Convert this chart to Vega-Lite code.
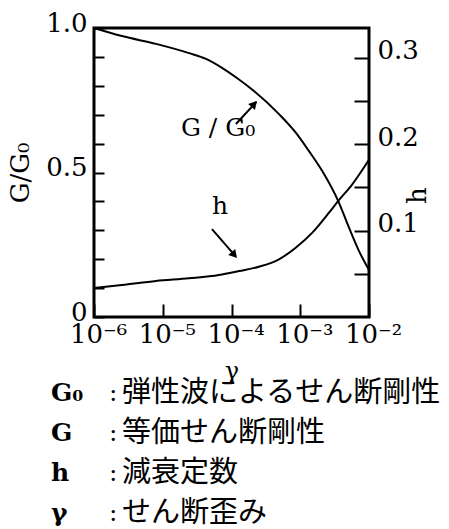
{
  "$schema": "https://vega.github.io/schema/vega-lite/v6.json",
  "background": "white",
  "padding": {"left": 6, "top": 8, "right": 0, "bottom": 0},
  "config": {"view": {"stroke": null}, "font": "DejaVu Serif"},
  "bounds": "flush",
  "spacing": 56,
  "datasets": {
    "G": [
      {"gamma": 1e-6, "ratio": 1.0},
      {"gamma": 2.55e-6, "ratio": 0.972},
      {"gamma": 7.98e-6, "ratio": 0.945},
      {"gamma": 2.41e-5, "ratio": 0.913},
      {"gamma": 4.26e-5, "ratio": 0.893},
      {"gamma": 7.28e-5, "ratio": 0.862},
      {"gamma": 1.2e-4, "ratio": 0.827},
      {"gamma": 2.12e-4, "ratio": 0.782},
      {"gamma": 4.91e-4, "ratio": 0.702},
      {"gamma": 8.67e-4, "ratio": 0.637},
      {"gamma": 1.34e-3, "ratio": 0.574},
      {"gamma": 2.09e-3, "ratio": 0.505},
      {"gamma": 3.57e-3, "ratio": 0.401},
      {"gamma": 5.12e-3, "ratio": 0.309},
      {"gamma": 7.16e-3, "ratio": 0.228},
      {"gamma": 1e-2, "ratio": 0.163}
    ],
    "h": [
      {"gamma": 1e-6, "h": 0.0336},
      {"gamma": 2.55e-6, "h": 0.037},
      {"gamma": 7.98e-6, "h": 0.0417},
      {"gamma": 2.41e-5, "h": 0.0448},
      {"gamma": 6.58e-5, "h": 0.0486},
      {"gamma": 1.285e-4, "h": 0.0532},
      {"gamma": 2.51e-4, "h": 0.0582},
      {"gamma": 4.91e-4, "h": 0.0668},
      {"gamma": 8.59e-4, "h": 0.0802},
      {"gamma": 1.5e-3, "h": 0.0976},
      {"gamma": 2.62e-3, "h": 0.1207},
      {"gamma": 3.57e-3, "h": 0.1343},
      {"gamma": 5.71e-3, "h": 0.1536},
      {"gamma": 1e-2, "h": 0.182}
    ],
    "arrows": [
      {"name": "G", "gamma": 1.16e-4, "ratio": 0.668, "gamma2": 2.3e-4, "ratio2": 0.744},
      {"name": "h", "gamma": 5.2e-5, "ratio": 0.304, "gamma2": 1.15e-4, "ratio2": 0.21}
    ],
    "heads": [
      {"name": "G", "gamma": 2.14e-4, "ratio": 0.737},
      {"name": "h", "gamma": 1.1e-4, "ratio": 0.2145}
    ],
    "labels": [
      {"label": "G / G₀", "gamma": 1.84e-5, "ratio": 0.654},
      {"label": "h", "gamma": 5.2e-5, "ratio": 0.384}
    ],
    "legend": [
      {"row": 1, "sym": "G₀", "desc": "弾性波によるせん断剛性"},
      {"row": 2, "sym": "G", "desc": "等価せん断剛性"},
      {"row": 3, "sym": "h", "desc": "減衰定数"},
      {"row": 4, "sym": "γ", "desc": "せん断歪み"}
    ]
  },
  "vconcat": [
    {
      "width": 275,
      "height": 289,
      "view": {"stroke": "black", "strokeWidth": 3},
      "encoding": {
        "x": {
          "field": "gamma",
          "type": "quantitative",
          "scale": {"type": "log", "domain": [1e-6, 1e-2], "nice": false},
          "axis": {
            "values": [1e-6, 1e-5, 1e-4, 1e-3, 1e-2],
            "labelExpr": "datum.value < 5e-6 ? '10⁻⁶' : datum.value < 5e-5 ? '10⁻⁵' : datum.value < 5e-4 ? '10⁻⁴' : datum.value < 5e-3 ? '10⁻³' : '10⁻²'",
            "domain": false,
            "grid": false,
            "offset": -13,
            "tickSize": 13,
            "tickWidth": 2,
            "tickColor": "black",
            "labelFont": "DejaVu Serif",
            "labelFontSize": 26,
            "labelColor": "black",
            "labelPadding": 4,
            "labelOffset": 4,
            "labelFlush": false,
            "labelOverlap": false,
            "title": "γ",
            "titleFont": "DejaVu Serif",
            "titleFontSize": 24,
            "titleFontWeight": "normal",
            "titleColor": "black",
            "titlePadding": 12
          }
        }
      },
      "layer": [
        {
          "encoding": {
            "y": {
              "field": "ratio",
              "type": "quantitative",
              "scale": {"domain": [0, 1], "nice": false},
              "axis": {
                "values": [0, 0.1, 0.2, 0.3, 0.4, 0.5, 0.6, 0.7, 0.8, 0.9, 1.0],
                "labelExpr": "datum.value == 0 ? '0' : datum.value == 0.5 ? '0.5' : datum.value == 1 ? '1.0' : ''",
                "domain": false,
                "grid": false,
                "offset": -10,
                "tickSize": 10,
                "tickWidth": 2,
                "tickColor": "black",
                "labelFont": "DejaVu Serif",
                "labelFontSize": 26,
                "labelColor": "black",
                "labelPadding": 7,
                "labelOffset": -5,
                "labelFlush": false,
                "labelOverlap": false,
                "title": "G/G₀",
                "titleFont": "DejaVu Serif",
                "titleFontSize": 26,
                "titleFontWeight": "normal",
                "titleColor": "black",
                "titlePadding": 12
              }
            }
          },
          "layer": [
            {
              "data": {"name": "G"},
              "mark": {"type": "line", "color": "black", "strokeWidth": 2, "interpolate": "monotone"}
            },
            {
              "data": {"name": "arrows"},
              "mark": {"type": "rule", "color": "black", "strokeWidth": 2},
              "encoding": {"x2": {"field": "gamma2"}, "y2": {"field": "ratio2"}}
            },
            {
              "data": {"name": "heads"},
              "transform": [{"filter": "datum.name == 'G'"}],
              "mark": {"type": "point", "shape": "triangle-up", "filled": true, "color": "black", "opacity": 1, "size": 85, "angle": 42}
            },
            {
              "data": {"name": "heads"},
              "transform": [{"filter": "datum.name == 'h'"}],
              "mark": {"type": "point", "shape": "triangle-up", "filled": true, "color": "black", "opacity": 1, "size": 85, "angle": 139}
            },
            {
              "data": {"name": "labels"},
              "mark": {"type": "text", "font": "DejaVu Serif", "fontSize": 25, "align": "left", "baseline": "middle", "color": "black"},
              "encoding": {"text": {"field": "label"}}
            }
          ]
        },
        {
          "data": {"name": "h"},
          "mark": {"type": "line", "color": "black", "strokeWidth": 2, "interpolate": "monotone"},
          "encoding": {
            "y": {
              "field": "h",
              "type": "quantitative",
              "scale": {"domain": [0, 0.3345], "nice": false},
              "axis": {
                "orient": "right",
                "values": [0.05, 0.1, 0.15, 0.2, 0.25, 0.3],
                "labelExpr": "datum.value == 0.1 ? '0.1' : datum.value == 0.2 ? '0.2' : datum.value == 0.3 ? '0.3' : ''",
                "domain": false,
                "grid": false,
                "offset": -15,
                "tickSize": 15,
                "tickWidth": 2,
                "tickColor": "black",
                "labelFont": "DejaVu Serif",
                "labelFontSize": 26,
                "labelColor": "black",
                "labelPadding": 8,
                "labelOffset": -7,
                "labelFlush": false,
                "labelOverlap": false,
                "title": "h",
                "titleFont": "DejaVu Serif",
                "titleFontSize": 26,
                "titleFontWeight": "normal",
                "titleColor": "black",
                "titleAngle": -90,
                "titleBaseline": "middle",
                "titleX": 63,
                "titleY": 167
              }
            }
          }
        }
      ],
      "resolve": {"scale": {"y": "independent"}, "axis": {"y": "independent"}}
    },
    {
      "width": 275,
      "height": 160,
      "data": {"name": "legend"},
      "encoding": {
        "y": {"field": "row", "type": "ordinal", "axis": null, "scale": {"paddingInner": 0, "paddingOuter": 0}}
      },
      "layer": [
        {
          "mark": {"type": "text", "x": 0, "dx": -43, "align": "left", "baseline": "middle", "font": "DejaVu Serif", "fontWeight": "bold", "fontSize": 25, "color": "black"},
          "encoding": {"text": {"field": "sym"}}
        },
        {
          "mark": {"type": "text", "x": 0, "dx": 15, "text": ":", "align": "left", "baseline": "middle", "font": "DejaVu Serif", "fontSize": 25, "color": "black"}
        },
        {
          "mark": {"type": "text", "x": 0, "dx": 28, "align": "left", "baseline": "middle", "font": "Noto Sans CJK JP", "fontSize": 29, "color": "black"},
          "encoding": {"text": {"field": "desc"}}
        }
      ]
    }
  ]
}
